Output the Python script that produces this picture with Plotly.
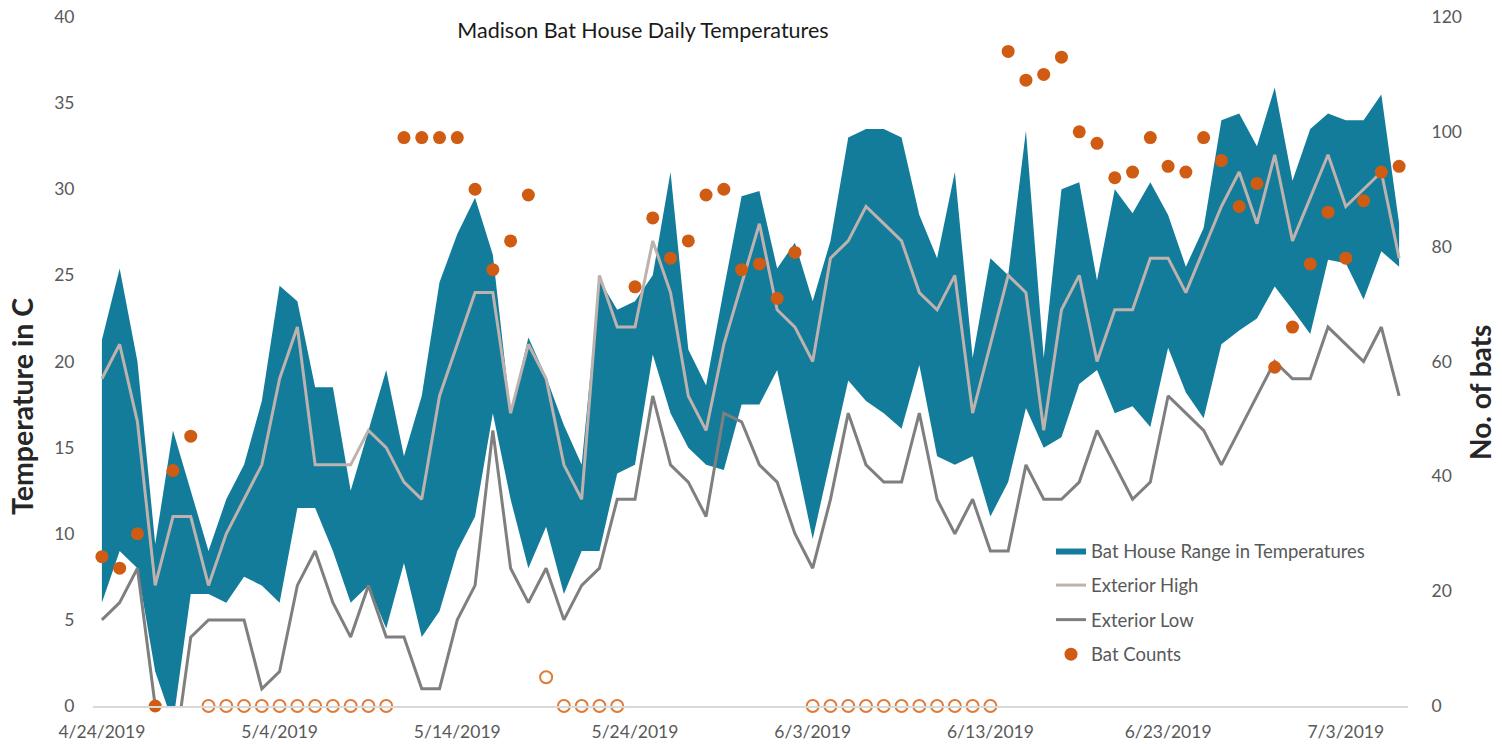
import pandas as pd
import plotly.graph_objects as go

# one reading per day, 4/24/2019 .. 7/6/2019
days = pd.date_range("2019-04-24", "2019-07-06", freq="D")

house_high = [21.25, 25.4, 20, 9.4, 16, 12.5, 9, 12, 14, 17.7,
              24.4, 23.5, 18.5, 18.5, 12.5, 16, 19.5, 14.5, 18, 24.6,
              27.4, 29.5, 26.2, 17, 21.4, 19.1, 16.3, 14, 24.75, 23,
              23.5, 25, 31, 20.7, 18.6, 24.2, 29.6, 29.9, 25.4, 26.9,
              23.5, 27, 33, 33.5, 33.5, 33, 28.5, 26, 31, 20.2,
              26, 25, 33.4, 20.2, 30, 30.4, 24.7, 30, 28.6, 30.4,
              28.5, 25.5, 27.75, 34, 34.4, 32.5, 35.9, 30.5, 33.5, 34.4,
              34, 34, 35.5, 28]

house_low = [6, 9, 8, 2, -1, 6.5, 6.5, 6, 7.5, 7,
             6, 11.5, 11.5, 9, 6, 7, 4.5, 8.3, 4, 5.5,
             9, 11, 17, 12, 8, 10.4, 6.5, 9, 9, 13.5,
             14, 20.4, 17, 15, 14, 13.7, 17.5, 17.5, 19.5, 14.6,
             9.7, 14.3, 18.9, 17.7, 17, 16.1, 19.8, 14.5, 14, 14.5,
             11, 13, 17.3, 15, 15.6, 18.7, 19.5, 17, 17.4, 16.2,
             20.8, 18.2, 16.7, 21, 21.8, 22.5, 24.35, 23, 21.6, 25.9,
             25.7, 23.6, 26.4, 25.5]

ext_high = [19, 21, 16.5, 7, 11, 11, 7, 10, 12, 14,
            19, 22, 14, 14, 14, 16, 15, 13, 12, 18,
            21, 24, 24, 17, 21, 19, 14, 12, 25, 22,
            22, 27, 24, 18, 16, 21, 24.5, 28, 23, 22,
            20, 26, 27, 29, 28, 27, 24, 23, 25, 17,
            21, 25, 24, 16, 23, 25, 20, 23, 23, 26,
            26, 24, 26.5, 29, 31, 28, 32, 27, 29.5, 32,
            29, 30, 31, 26]

ext_low = [5, 6, 8, 0, -3.5, 4, 5, 5, 5, 1,
           2, 7, 9, 6, 4, 7, 4, 4, 1, 1,
           5, 7, 16, 8, 6, 8, 5, 7, 8, 12,
           12, 18, 14, 13, 11, 17, 16.5, 14, 13, 10,
           8, 12, 17, 14, 13, 13, 17, 12, 10, 12,
           9, 9, 14, 12, 12, 13, 16, 14, 12, 13,
           18, 17, 16, 14, 16, 18, 20, 19, 19, 22,
           21, 20, 22, 18]

bat_counts = [26, 24, 30, 0, 41, 47, None, None, None, None,
              None, None, None, None, None, None, None, 99, 99, 99,
              99, 90, 76, 81, 89, None, None, None, None, None,
              73, 85, 78, 81, 89, 90, 76, 77, 71, 79,
              None, None, None, None, None, None, None, None, None, None,
              None, 114, 109, 110, 113, 100, 98, 92, 93, 99,
              94, 93, 99, 95, 87, 91, 59, 66, 77, 86,
              78, 88, 93, 94]

# days without a real count, shown as open circles
bat_counts_open = [None] * 6 + [0] * 11 + [None] * 8 + [5, 0, 0, 0, 0] \
    + [None] * 10 + [0] * 11 + [None] * 23

BAND = "#137C9B"
HIGH = "#BDB2AE"
LOW = "#7F7F7F"
DOT = "#CF5C12"
GREY_TXT = "#595959"

# plot area in pixels (left, right, top, bottom)
PL, PR, PT, PB = 93, 1408, 17, 706

fig = go.Figure()

fig.add_trace(go.Scatter(x=days, y=house_high, mode="lines", line=dict(width=0, color=BAND),
                         showlegend=False, legendgroup="a", hoverinfo="skip"))
fig.add_trace(go.Scatter(x=days, y=house_low, mode="lines", line=dict(width=0, color=BAND),
                         fill="tonexty", fillcolor=BAND, legendgroup="a",
                         name="Bat House Range in Temperatures"))
fig.add_trace(go.Scatter(x=days, y=ext_high, mode="lines", line=dict(width=3, color=HIGH),
                         name="Exterior High", legendgroup="b"))
fig.add_trace(go.Scatter(x=days, y=ext_low, mode="lines", line=dict(width=3, color=LOW),
                         name="Exterior Low", legendgroup="c"))
fig.add_trace(go.Scatter(x=days, y=bat_counts, mode="markers", yaxis="y2",
                         marker=dict(size=13, color=DOT), cliponaxis=False,
                         name="Bat Counts", legendgroup="d"))
fig.add_trace(go.Scatter(x=days, y=bat_counts_open, mode="markers", yaxis="y2",
                         marker=dict(size=12, symbol="circle-open", color="#E07A36", line=dict(width=2)),
                         cliponaxis=False, showlegend=False))


def px_x(px):
    return (px - PL) / (PR - PL)


def px_y(py):
    return (PB - py) / (PB - PT)


fig.update_layout(
    width=1502, height=744,
    margin=dict(l=PL, r=1502 - PR, t=PT, b=744 - PB),
    paper_bgcolor="white", plot_bgcolor="white",
    font=dict(family="Lato, Open Sans, sans-serif", size=16, color=GREY_TXT),
    title=dict(text="Madison Bat House Daily Temperatures", x=643 / 1502, xanchor="center",
               y=1 - 30 / 744, yanchor="middle", font=dict(size=21.5, color="#1a1a1a")),
    xaxis=dict(type="date", range=["2019-04-23 12:00", "2019-07-06 12:00"],
               tick0="2019-04-24", dtick=86400000 * 10, tickformat="%-m/%-d/%Y",
               showgrid=False, zeroline=False, showline=True, linecolor="#D9D9D9", linewidth=2,
               ticks="outside", ticklen=9, tickcolor="rgba(0,0,0,0)", automargin=False,
               tickfont=dict(size=17.5, color=GREY_TXT)),
    yaxis=dict(range=[0, 40], dtick=5, showgrid=False, zeroline=False,
               ticks="outside", ticklen=14, tickcolor="rgba(0,0,0,0)", automargin=False,
               tickfont=dict(size=17.5, color=GREY_TXT)),
    yaxis2=dict(range=[0, 120], dtick=20, overlaying="y", side="right",
                showgrid=False, zeroline=False, automargin=False,
                ticks="outside", ticklen=19, tickcolor="rgba(0,0,0,0)",
                tickfont=dict(size=17.5, color=GREY_TXT)),
    legend=dict(x=px_x(1051), y=px_y(532), xanchor="left", yanchor="top",
                bgcolor="rgba(0,0,0,0)", font=dict(size=18.5, color=GREY_TXT),
                tracegroupgap=7.5, itemwidth=30),
    showlegend=True,
)

# axis titles sit a little below the middle of the plot, as in the original
fig.add_annotation(text="<b>Temperature in C</b>", textangle=-90, showarrow=False,
                   xref="paper", yref="paper", x=px_x(22), y=px_y(407),
                   xanchor="center", yanchor="middle", font=dict(size=28.5, color="#262626"))
fig.add_annotation(text="<b>No. of bats</b>", textangle=-90, showarrow=False,
                   xref="paper", yref="paper", x=px_x(1480), y=px_y(392),
                   xanchor="center", yanchor="middle", font=dict(size=28, color="#262626"))

# the page has a default 8px body margin; drop it so the chart fills the window
fig.write_html("out.html", config={"displayModeBar": False},
               post_script="document.body.style.margin = '0';")
